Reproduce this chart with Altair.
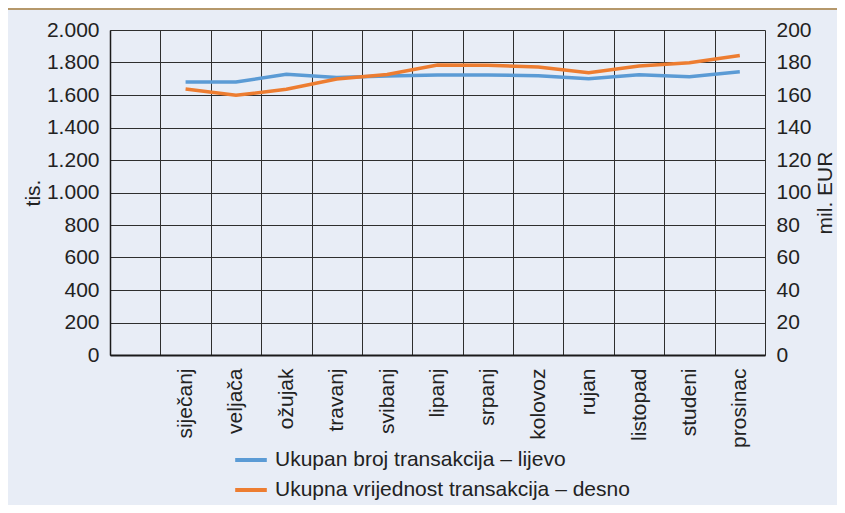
import altair as alt
import pandas as pd

months = ["siječanj", "veljača", "ožujak", "travanj", "svibanj", "lipanj",
          "srpanj", "kolovoz", "rujan", "listopad", "studeni", "prosinac"]
broj = [1680, 1680, 1728, 1707, 1717, 1723, 1723, 1718, 1700, 1725, 1712, 1743]
vrijednost = [163.7, 159.8, 163.5, 169.8, 172.6, 178.5, 178.3, 177.2, 173.7, 177.8, 179.8, 184.3]
series_names = ["Ukupan broj transakcija – lijevo", "Ukupna vrijednost transakcija – desno"]
colors = ["#5b9bd5", "#ed7d31"]
left_ticks = list(range(0, 2001, 200))
right_ticks = list(range(0, 201, 20))
x_domain = [" "] + months

df = pd.DataFrame({
    "mjesec": months * 2,
    "serija": [series_names[0]] * len(months) + [series_names[1]] * len(months),
    "v": broj + vrijednost,
})

FONT = "Liberation Sans"
TXT = "#222222"
GRID = "#2e2e2e"

x_enc = alt.X(
    "mjesec:N", sort=x_domain,
    scale=alt.Scale(type="band", domain=x_domain, paddingInner=0, paddingOuter=0),
    bandPosition=0.5,
    axis=alt.Axis(title=None, labelAngle=270, labelAlign="right", labelBaseline="middle",
                  labelPadding=13, ticks=False, tickBand="extent", grid=True,
                  gridColor=GRID, gridWidth=1, domainColor="#1a1a1a", domainWidth=2),
)

color = alt.Color(
    "serija:N",
    scale=alt.Scale(domain=series_names, range=colors),
    legend=alt.Legend(title=None, orient="none", legendX=123, legendY=412,
                      symbolType="stroke", symbolSize=1000, symbolStrokeWidth=4,
                      labelFontSize=21, labelFont=FONT, labelColor=TXT, labelOffset=6,
                      padding=0, rowPadding=2, labelLimit=600),
)

left = alt.Chart(df).transform_filter(alt.datum.serija == series_names[0]).mark_line(
    strokeWidth=3.5
).encode(
    x=x_enc,
    y=alt.Y("v:Q", scale=alt.Scale(domain=[0, 2000], nice=False),
            axis=alt.Axis(orient="left", title="tis.", values=left_ticks,
                          labelExpr="replace(format(datum.value, ','), ',', '.')",
                          ticks=False, labelPadding=11, grid=True, gridColor=GRID,
                          gridWidth=1, domainColor="#1a1a1a", domainWidth=1.5,
                          titleAngle=270, titleX=-71, titleBaseline="alphabetic")),
    color=color,
)

right = alt.Chart(df).transform_filter(alt.datum.serija == series_names[1]).mark_line(
    strokeWidth=3.5
).encode(
    x=x_enc,
    y=alt.Y("v:Q", scale=alt.Scale(domain=[0, 200], nice=False),
            axis=alt.Axis(orient="right", title="mil. EUR", values=right_ticks,
                          ticks=False, labelPadding=11, grid=False, domain=False,
                          titleAngle=270, titleX=66, titleBaseline="alphabetic")),
    color=color,
)

rule = alt.Chart(pd.DataFrame({"a": [0]})).mark_rule(color="#b5986b", strokeWidth=2).encode(
    x=alt.value(-102), x2=alt.value(727), y=alt.value(-21)
)

chart = alt.layer(left, right, rule).resolve_scale(y="independent").properties(
    width=655, height=325,
    autosize=alt.AutoSizeParams(type="none"),
    padding={"left": 102, "top": 22, "right": 72, "bottom": 150},
    background="#e8edf6",
).configure_view(stroke=None).configure_axis(
    labelFont=FONT, titleFont=FONT, labelFontSize=21, titleFontSize=21,
    labelColor=TXT, titleColor=TXT, titleFontWeight="normal",
)

chart.save("out.html", embed_options={"renderer": "svg", "actions": False})
